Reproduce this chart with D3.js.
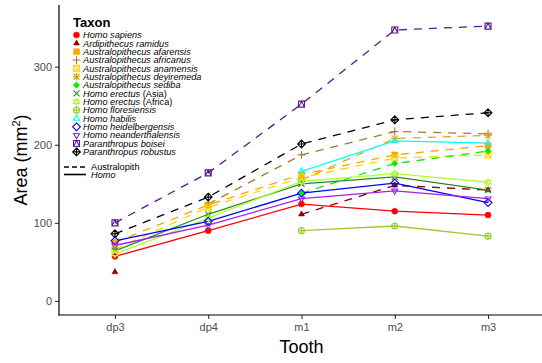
<!DOCTYPE html>
<html>
<head>
<meta charset="utf-8">
<script src="https://cdn.jsdelivr.net/npm/d3@7"></script>
<style>
  body { margin: 0; background: #fff; }
  text { font-family: "Liberation Sans", Arial, sans-serif; }
</style>
</head>
<body>
<div class="chart"></div>
<script>
// tooth positions
var teeth = ["dp3", "dp4", "m1", "m2", "m3"];
var yTicks = [0, 100, 200, 300];

// crown area (mm2) per taxon, null = no data
var homoSapiens      = [57, 90, 124, 115, 110];
var ardiRamidus      = [37, null, 111, 148, 142];
var auAfarensis      = [75, 123, 162, 187, 199];
var auAfricanus      = [null, 124, 187, 217, 214];
var auAnamensis      = [66, 120, 158, 183, 187];
var auDeyiremeda     = [null, null, 155, 208, 212];
var auSediba         = [null, null, 138, 176, 192];
var erectusAsia      = [64, 111, 150, 159, 142];
var erectusAfrica    = [60, 106, 153, 163, 152];
var floresiensis     = [null, null, 90, 96, 83];
var habilis          = [null, null, 166, 205, 202];
var heidelbergensis  = [77, 102, 138, 151, 126];
var neanderthalensis = [71, 97, 131, 141, 131];
var pBoisei          = [100, 164, 252, 347, 352];
var pRobustus        = [86, 133, 201, 232, 241];

var taxa = [
  {name: "Homo sapiens", values: homoSapiens, group: "Homo", color: "#ff0000", shape: 16},
  {name: "Ardipithecus ramidus", values: ardiRamidus, group: "Australopith", color: "#8b0000", shape: 17},
  {name: "Australopithecus afarensis", values: auAfarensis, group: "Australopith", color: "#ffa500", shape: 15},
  {name: "Australopithecus africanus", values: auAfricanus, group: "Australopith", color: "#a8782a", shape: 3},
  {name: "Australopithecus anamensis", values: auAnamensis, group: "Australopith", color: "#ffd700", shape: 7},
  {name: "Australopithecus deyiremeda", values: auDeyiremeda, group: "Australopith", color: "#daa520", shape: 8},
  {name: "Australopithecus sediba", values: auSediba, group: "Australopith", color: "#00ee00", shape: 18},
  {name: "Homo erectus", suffix: " (Asia)", values: erectusAsia, group: "Homo", color: "#228b22", shape: 4},
  {name: "Homo erectus", suffix: " (Africa)", values: erectusAfrica, group: "Homo", color: "#adff2f", shape: 11},
  {name: "Homo floresiensis", values: floresiensis, group: "Homo", color: "#9acd32", shape: 10},
  {name: "Homo habilis", values: habilis, group: "Homo", color: "#00ffff", shape: 2},
  {name: "Homo heidelbergensis", values: heidelbergensis, group: "Homo", color: "#0000ff", shape: 5},
  {name: "Homo neanderthalensis", values: neanderthalensis, group: "Homo", color: "#a020f0", shape: 6},
  {name: "Paranthropus boisei", values: pBoisei, group: "Australopith", color: "#551a8b", shape: 14},
  {name: "Paranthropus robustus", values: pRobustus, group: "Australopith", color: "#000000", shape: 9}
];

var width = 542, height = 363;
var panel = {left: 59, right: 544, top: 5, bottom: 315};

var svg = d3.select(".chart").append("svg")
    .attr("width", width)
    .attr("height", height);

var x = d3.scalePoint()
    .domain(teeth)
    .range([panel.left, panel.right])
    .padding(0.6);

var y = d3.scaleLinear()
    .domain([-18, 379])
    .range([panel.bottom, panel.top]);

// point shapes, roughly like R pch codes
function shapePath(code, h) {
  var t = h * 1.15;
  var tri = "M0," + (-t) + "L" + (t * 0.87) + "," + (t * 0.5) + "L" + (-t * 0.87) + "," + (t * 0.5) + "Z";
  var triDown = "M0," + t + "L" + (t * 0.87) + "," + (-t * 0.5) + "L" + (-t * 0.87) + "," + (-t * 0.5) + "Z";
  var sq = "M" + (-h) + "," + (-h) + "H" + h + "V" + h + "H" + (-h) + "Z";
  var d = h * 1.3;
  var dia = "M0," + (-d) + "L" + d + ",0L0," + d + "L" + (-d) + ",0Z";
  var plus = "M" + (-d) + ",0H" + d + "M0," + (-d) + "V" + d;
  var cross = "M" + (-h) + "," + (-h) + "L" + h + "," + h + "M" + h + "," + (-h) + "L" + (-h) + "," + h;
  var circ = "M" + h + ",0A" + h + "," + h + " 0 1,1 " + (-h) + ",0A" + h + "," + h + " 0 1,1 " + h + ",0Z";
  switch (code) {
    case 16: return {d: circ, fill: true};
    case 17: return {d: tri, fill: true};
    case 15: return {d: sq, fill: true};
    case 18: var e = h * 1.05; return {d: "M0," + (-e) + "L" + e + ",0L0," + e + "L" + (-e) + ",0Z", fill: true};
    case 3: return {d: plus, fill: false};
    case 4: return {d: cross, fill: false};
    case 7: return {d: sq + cross, fill: false};
    case 8: return {d: plus + cross, fill: false};
    case 11: return {d: tri + triDown, fill: false};
    case 10: return {d: circ + "M" + (-h) + ",0H" + h + "M0," + (-h) + "V" + h, fill: false};
    case 2: return {d: tri, fill: false};
    case 5: return {d: dia, fill: false};
    case 6: return {d: triDown, fill: false};
    case 14: return {d: sq + "M" + (-h) + "," + h + "L0," + (-h) + "L" + h + "," + h, fill: false};
    case 9: return {d: dia + plus, fill: false};
  }
}

function drawShape(g, tx, cx, cy) {
  var s = shapePath(tx.shape, 3);
  g.append("path")
    .attr("transform", "translate(" + cx + "," + cy + ")")
    .attr("d", s.d)
    .attr("fill", s.fill ? tx.color : "none")
    .attr("stroke", tx.color)
    .attr("stroke-width", s.fill ? 0.5 : 1.1);
}

// axes
var yAxis = svg.append("g")
    .attr("transform", "translate(" + panel.left + ",0)")
    .call(d3.axisLeft(y).tickValues(yTicks).tickSize(4).tickPadding(3));
var xAxis = svg.append("g")
    .attr("transform", "translate(0," + panel.bottom + ")")
    .call(d3.axisBottom(x).tickSize(4).tickPadding(4));

[yAxis, xAxis].forEach(function (a) {
  a.select(".domain").remove();
  a.selectAll(".tick line").attr("stroke", "#333").attr("stroke-width", 1.1);
  a.selectAll(".tick text").attr("fill", "#4d4d4d").style("font-size", "11px");
});

svg.append("line")
    .attr("x1", panel.left).attr("x2", panel.left)
    .attr("y1", panel.top).attr("y2", panel.bottom + 0.6)
    .attr("stroke", "#000").attr("stroke-width", 1.2);
svg.append("line")
    .attr("x1", panel.left - 0.6).attr("x2", width)
    .attr("y1", panel.bottom).attr("y2", panel.bottom)
    .attr("stroke", "#000").attr("stroke-width", 1.2);

// lines, broken where a tooth is missing
var line = d3.line()
    .defined(function (d) { return d != null; })
    .x(function (d, i) { return x(teeth[i]); })
    .y(function (d) { return y(d); });

var lines = svg.append("g");
taxa.forEach(function (tx) {
  lines.append("path")
    .attr("d", line(tx.values))
    .attr("fill", "none")
    .attr("stroke", tx.color)
    .attr("stroke-width", 1.3)
    .attr("stroke-dasharray", tx.group === "Australopith" ? "8,7" : null);
});

var points = svg.append("g");
taxa.forEach(function (tx) {
  tx.values.forEach(function (v, i) {
    if (v == null) return;
    drawShape(points, tx, x(teeth[i]), y(v));
  });
});

// axis titles
svg.append("text")
    .attr("x", (panel.left + panel.right) / 2)
    .attr("y", 353)
    .attr("text-anchor", "middle")
    .style("font-size", "18px")
    .text("Tooth");

svg.append("text")
    .attr("transform", "translate(27," + ((panel.top + panel.bottom) / 2) + ") rotate(-90)")
    .attr("text-anchor", "middle")
    .style("font-size", "18px")
    .html('Area (mm<tspan dy="-7" style="font-size:11px">2</tspan><tspan dy="7">)</tspan>');

// legend
var legend = svg.append("g");
legend.append("text")
    .attr("x", 73).attr("y", 27)
    .style("font-size", "13px")
    .style("font-weight", "bold")
    .text("Taxon");

taxa.forEach(function (tx, i) {
  var cy = 35 + i * 8.35;
  drawShape(legend, tx, 76.5, cy);
  var t = legend.append("text")
      .attr("x", 83).attr("y", cy + 3.2)
      .style("font-size", "9.2px");
  t.append("tspan").style("font-style", "italic").text(tx.name);
  if (tx.suffix) t.append("tspan").text(tx.suffix);
});

var groups = ["Australopith", "Homo"];
groups.forEach(function (gname, i) {
  var cy = 167 + i * 7.5;
  legend.append("line")
    .attr("x1", 64).attr("x2", 86)
    .attr("y1", cy).attr("y2", cy)
    .attr("stroke", "#000")
    .attr("stroke-width", 1.6)
    .attr("stroke-dasharray", gname === "Australopith" ? "5,3" : null);
  legend.append("text")
    .attr("x", 91).attr("y", cy + 3)
    .style("font-size", "9.2px")
    .style("font-style", gname === "Homo" ? "italic" : "normal")
    .text(gname);
});

// next panel label, cut off at the bottom
svg.append("text")
    .attr("x", 11).attr("y", 371)
    .style("font-size", "15px")
    .style("font-weight", "bold")
    .text("c");
</script>
</body>
</html>
